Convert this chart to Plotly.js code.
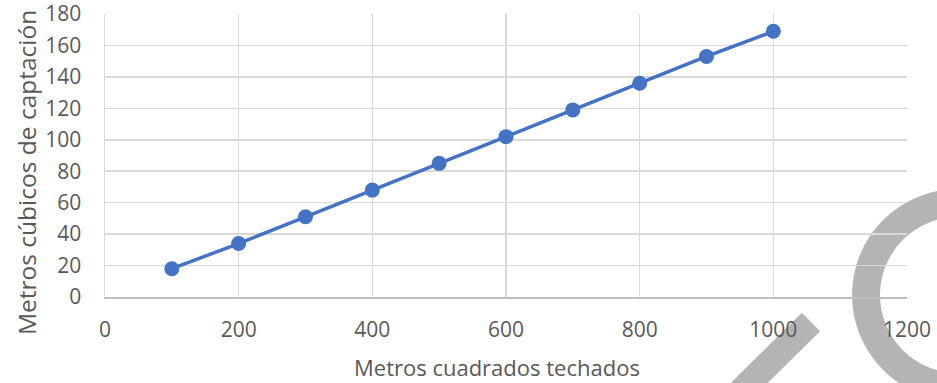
<!DOCTYPE html>
<html>
<head>
<meta charset="utf-8">
<script src="https://cdn.plot.ly/plotly-3.0.1.min.js"></script>
<style>html,body{margin:0;padding:0;background:#fff;}#chart{width:937px;height:383px;}</style>
</head>
<body>
<div id="chart"></div>
<script>
const xValues = [100, 200, 300, 400, 500, 600, 700, 800, 900, 1000];
const yValues = [18, 34, 51, 68, 85, 102, 119, 136, 153, 169];
const xTitle = "Metros cuadrados techados";
const yTitle = "Metros cúbicos de captación";

const textColor = "#595959";
const fontFam = "'Open Sans', 'Liberation Sans', sans-serif";

const trace = {
  x: xValues, y: yValues, type: "scatter", mode: "lines+markers",
  line: {color: "#4472C4", width: 3.5},
  marker: {color: "#4472C4", size: 15},
  cliponaxis: false
};

const layout = {
  width: 937, height: 383,
  margin: {l: 105, r: 30, t: 14, b: 86},
  paper_bgcolor: "#ffffff",
  plot_bgcolor: "rgba(0,0,0,0)",
  showlegend: false,
  font: {family: fontFam, color: textColor, size: 21},
  xaxis: {
    range: [0, 1200], dtick: 200, tick0: 0,
    showgrid: true, gridcolor: "#d9d9d9", gridwidth: 1.5,
    zeroline: false, showline: true, linecolor: "#bfbfbf", linewidth: 1.5,
    ticks: "", ticklabelstandoff: 13, ticklabeloverflow: "allow",
    tickfont: {size: 21, color: textColor, family: fontFam},
    automargin: false, fixedrange: true
  },
  yaxis: {
    range: [0, 180], dtick: 20, tick0: 0,
    showgrid: true, gridcolor: "#d9d9d9", gridwidth: 1.5,
    zeroline: false, showline: true, linecolor: "#d9d9d9", linewidth: 1.5,
    ticks: "", ticklabelstandoff: 18, ticklabeloverflow: "allow",
    tickfont: {size: 21, color: textColor, family: fontFam},
    automargin: false, fixedrange: true
  },
  annotations: [
    {text: xTitle, xref: "paper", yref: "paper", x: 0.4888, y: -0.2473,
     xanchor: "center", yanchor: "middle", showarrow: false,
     font: {size: 22, color: textColor, family: fontFam}},
    {text: yTitle, xref: "paper", yref: "paper", x: -0.0973, y: 0.4417,
     xanchor: "center", yanchor: "middle", showarrow: false, textangle: -90,
     font: {size: 24.5, color: textColor, family: fontFam}}
  ],
  shapes: [
    {type: "line", xref: "paper", yref: "paper", layer: "below",
     x0: 0.8803, y0: -0.0883, x1: 0.7855, y1: -0.3534,
     line: {color: "#b4b4b4", width: 26}},
    {type: "circle", xref: "paper", yref: "paper", layer: "below",
     x0: 0.9489, x1: 1.1783, y0: -0.318, y1: 0.3322,
     line: {color: "#b4b4b4", width: 28}}
  ]
};

Plotly.newPlot("chart", [trace], layout, {displayModeBar: false, staticPlot: true});
</script>
</body>
</html>
